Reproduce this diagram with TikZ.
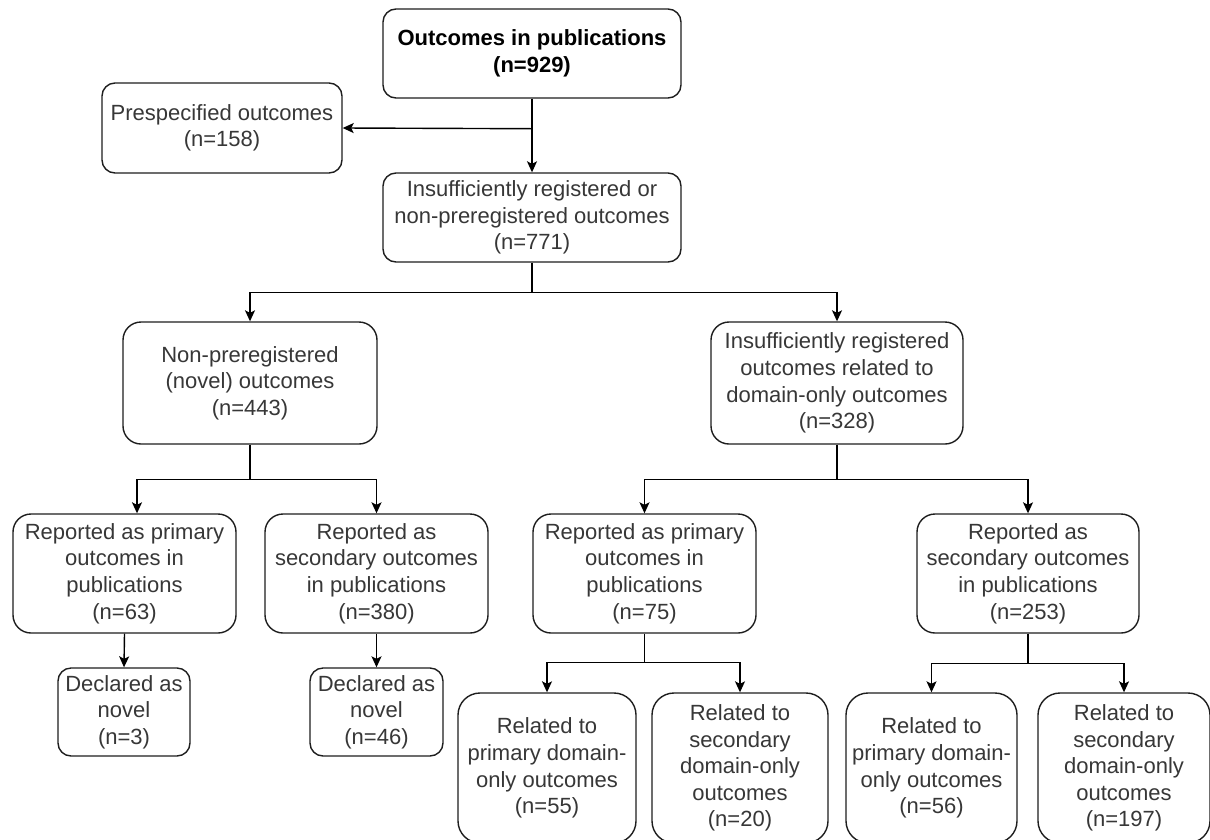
\documentclass[tikz,border=0pt]{standalone}
\usepackage{fontspec}
\setmainfont{Liberation Sans}
\usetikzlibrary{arrows.meta,calc}
\definecolor{txtgray}{RGB}{55,55,55}
\definecolor{linegray}{RGB}{30,30,30}
\begin{document}
\begin{tikzpicture}[x=1pt,y=-1pt,
  bx/.style n args={3}{draw=linegray, line width=1.4pt, rounded corners=#3,
      minimum width=#1, minimum height=#2, inner sep=0pt, align=center,
      text=txtgray, font=\fontsize{22}{26.6}\selectfont, anchor=center},
  arr/.style={draw=black, line width=1.4pt,
      -{Stealth[length=11pt,width=10pt,inset=2.5pt]}},
  ln/.style={draw=black, line width=1.4pt}]
\useasboundingbox (0,0) rectangle (1210,839);
\fill[white] (0,0) rectangle (1210,839);

\node[bx={298pt}{89pt}{13pt}, text=black, font=\fontsize{22}{26.6}\selectfont\bfseries] (top) at (532,53.5) {Outcomes in publications\\(n=929)};
\node[bx={240pt}{90pt}{13pt}] (pre) at (222,128) {Prespecified outcomes\\(n=158)};
\node[bx={298pt}{89pt}{13pt}] (ins) at (532,217.5) {Insufficiently registered or\\non-preregistered outcomes\\(n=771)};

\node[bx={254pt}{122pt}{18pt}] (n443) at (250,383) {Non-preregistered\\(novel) outcomes\\(n=443)};
\node[bx={252pt}{122pt}{18pt}] (n328) at (837,383) {Insufficiently registered\\outcomes related to\\domain-only outcomes\\(n=328)};

\node[bx={223pt}{119pt}{18pt}] (p63) at (124.5,573.5) {Reported as primary\\outcomes in\\publications\\(n=63)};
\node[bx={223pt}{119pt}{18pt}] (s380) at (376.5,573.5) {Reported as\\secondary outcomes\\in publications\\(n=380)};
\node[bx={223pt}{119pt}{18pt}] (p75) at (644.5,573.5) {Reported as primary\\outcomes in\\publications\\(n=75)};
\node[bx={222pt}{119pt}{18pt}] (s253) at (1028,573.5) {Reported as\\secondary outcomes\\in publications\\(n=253)};

\node[bx={132pt}{88pt}{13pt}] (d3) at (124,712) {Declared as\\novel\\(n=3)};
\node[bx={133pt}{88pt}{13pt}] (d46) at (376.5,712) {Declared as\\novel\\(n=46)};

\node[bx={178pt}{150pt}{22pt}] (r55) at (547,768) {Related to\\primary domain-\\only outcomes\\(n=55)};
\node[bx={176pt}{150pt}{22pt}] (r20) at (740,768) {Related to\\secondary\\domain-only\\outcomes\\(n=20)};
\node[bx={171pt}{150pt}{22pt}] (r56) at (931.5,768) {Related to\\primary domain-\\only outcomes\\(n=56)};
\node[bx={172pt}{150pt}{22pt}] (r197) at (1124,768) {Related to\\secondary\\domain-only\\outcomes\\(n=197)};

% connectors
\coordinate (sp1) at ($(top.south)+(0,30)$);
\draw[arr] (top.south) -- (ins.north);
\draw[arr] (sp1) -- (pre.east);

\coordinate (sp2) at ($(ins.south)+(0,30)$);
\draw[ln] (ins.south) -- (sp2);
\draw[arr] (sp2) -| (n443.north);
\draw[arr] (sp2) -| (n328.north);

\coordinate (sp3) at ($(n443.south)+(0,35)$);
\draw[ln] (n443.south) -- (sp3);
\draw[arr] (sp3) -| ($(p63.north)+(12.5,0)$);
\draw[arr] (sp3) -| (s380.north);

\coordinate (sp4) at ($(n328.south)+(0,35)$);
\draw[ln] (n328.south) -- (sp4);
\draw[arr] (sp4) -| (p75.north);
\draw[arr] (sp4) -| (s253.north);

\draw[arr] (p63.south) -- (d3.north);
\draw[arr] (s380.south) -- (d46.north);

\coordinate (sp5) at ($(p75.south)+(0,29)$);
\draw[ln] (p75.south) -- (sp5);
\draw[arr] (sp5) -| (r55.north);
\draw[arr] (sp5) -| (r20.north);

\coordinate (sp6) at ($(s253.south)+(0,30)$);
\draw[ln] (s253.south) -- (sp6);
\draw[arr] (sp6) -| (r56.north);
\draw[arr] (sp6) -| (r197.north);
\end{tikzpicture}
\end{document}
